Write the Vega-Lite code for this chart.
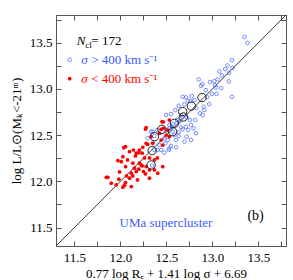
{
  "$schema": "https://vega.github.io/schema/vega-lite/v6.json",
  "width": 230,
  "height": 231,
  "autosize": {"type": "none"},
  "padding": {"left": 56, "top": 15, "right": 7, "bottom": 34},
  "background": "white",
  "config": {
    "view": {"stroke": "#555", "strokeWidth": 1},
    "axis": {
      "domainColor": "#555",
      "tickColor": "#555",
      "labelFont": "Liberation Serif",
      "labelFontSize": 13,
      "labelColor": "#000",
      "titleFont": "Liberation Serif",
      "titleFontSize": 13,
      "titleFontWeight": "normal",
      "titleColor": "#000",
      "grid": false
    }
  },
  "datasets": {
    "diag": [{"x": 11.3, "y": 11.3}, {"x": 13.8, "y": 13.8}],
    "hi": [
      {"x": 13.348, "y": 13.563}, {"x": 13.381, "y": 13.498}, {"x": 13.212, "y": 13.311}, {"x": 13.164, "y": 13.254},
      {"x": 13.139, "y": 13.214}, {"x": 13.077, "y": 13.189}, {"x": 13.179, "y": 13.174}, {"x": 13.103, "y": 13.146},
      {"x": 13.056, "y": 13.103}, {"x": 13.02, "y": 13.084}, {"x": 12.85, "y": 13.103}, {"x": 12.893, "y": 13.052},
      {"x": 12.876, "y": 13.034}, {"x": 12.973, "y": 13.074}, {"x": 13.028, "y": 13.041}, {"x": 13.038, "y": 13.016},
      {"x": 13.179, "y": 13.081}, {"x": 12.93, "y": 12.987}, {"x": 12.995, "y": 12.947}, {"x": 13.045, "y": 12.947},
      {"x": 13.212, "y": 12.915}, {"x": 12.774, "y": 12.922}, {"x": 12.731, "y": 12.872}, {"x": 12.76, "y": 12.868},
      {"x": 12.966, "y": 12.836}, {"x": 12.633, "y": 12.818}, {"x": 12.695, "y": 12.833}, {"x": 12.865, "y": 12.736},
      {"x": 12.893, "y": 12.717}, {"x": 12.757, "y": 12.663}, {"x": 12.768, "y": 12.609}, {"x": 12.568, "y": 12.62},
      {"x": 12.612, "y": 12.628}, {"x": 12.532, "y": 12.574}, {"x": 12.677, "y": 12.563}, {"x": 12.796, "y": 12.574},
      {"x": 12.352, "y": 12.537}, {"x": 12.568, "y": 12.537}, {"x": 12.633, "y": 12.53}, {"x": 12.677, "y": 12.915},
      {"x": 12.713, "y": 12.908}, {"x": 12.497, "y": 12.717}, {"x": 12.551, "y": 12.728}, {"x": 12.659, "y": 12.717},
      {"x": 12.673, "y": 12.696}, {"x": 12.72, "y": 12.692}, {"x": 12.616, "y": 12.663}, {"x": 12.641, "y": 12.645},
      {"x": 12.532, "y": 12.609}, {"x": 12.562, "y": 12.591}, {"x": 12.497, "y": 12.548}, {"x": 12.659, "y": 12.584},
      {"x": 12.713, "y": 12.591}, {"x": 12.633, "y": 12.49}, {"x": 12.72, "y": 12.483}, {"x": 12.822, "y": 12.52},
      {"x": 12.478, "y": 12.466}, {"x": 12.514, "y": 12.447}, {"x": 12.605, "y": 12.447}, {"x": 12.695, "y": 12.429},
      {"x": 12.768, "y": 12.447}, {"x": 12.489, "y": 12.411}, {"x": 12.551, "y": 12.382}, {"x": 12.605, "y": 12.368},
      {"x": 12.424, "y": 12.393}, {"x": 12.912, "y": 12.771}, {"x": 12.352, "y": 12.418}, {"x": 12.443, "y": 12.339},
      {"x": 12.525, "y": 12.339}, {"x": 12.334, "y": 12.537}, {"x": 12.37, "y": 12.49}, {"x": 12.297, "y": 12.466},
      {"x": 12.37, "y": 12.339}, {"x": 12.345, "y": 12.17}, {"x": 12.532, "y": 12.357}, {"x": 12.478, "y": 12.31},
      {"x": 12.402, "y": 12.339}, {"x": 12.587, "y": 12.501}, {"x": 13.218, "y": 13.228}, {"x": 12.904, "y": 12.807},
      {"x": 12.803, "y": 12.879}, {"x": 12.825, "y": 12.793}, {"x": 12.944, "y": 12.911}, {"x": 13.096, "y": 13.009},
      {"x": 12.597, "y": 12.771}, {"x": 12.814, "y": 12.663}, {"x": 12.738, "y": 12.555}, {"x": 12.402, "y": 12.555}
    ],
    "lo": [
      {"x": 12.28, "y": 12.58}, {"x": 12.467, "y": 12.642}, {"x": 12.532, "y": 12.663}, {"x": 12.453, "y": 12.645},
      {"x": 12.443, "y": 12.563}, {"x": 12.514, "y": 12.555}, {"x": 12.424, "y": 12.52}, {"x": 12.497, "y": 12.501},
      {"x": 12.532, "y": 12.483}, {"x": 12.443, "y": 12.447}, {"x": 12.46, "y": 12.393}, {"x": 12.272, "y": 12.566},
      {"x": 12.056, "y": 12.375}, {"x": 12.037, "y": 12.364}, {"x": 12.099, "y": 12.321}, {"x": 12.172, "y": 12.304},
      {"x": 12.2, "y": 12.31}, {"x": 12.237, "y": 12.304}, {"x": 12.243, "y": 12.368}, {"x": 12.297, "y": 12.401},
      {"x": 12.352, "y": 12.411}, {"x": 12.334, "y": 12.483}, {"x": 12.28, "y": 12.411}, {"x": 12.207, "y": 12.339},
      {"x": 12.164, "y": 12.274}, {"x": 12.027, "y": 12.267}, {"x": 11.972, "y": 12.224}, {"x": 12.009, "y": 12.213},
      {"x": 12.135, "y": 12.196}, {"x": 12.226, "y": 12.177}, {"x": 12.056, "y": 12.159}, {"x": 12.207, "y": 12.196},
      {"x": 12.237, "y": 12.166}, {"x": 12.28, "y": 12.159}, {"x": 11.847, "y": 12.044}, {"x": 11.864, "y": 12.044},
      {"x": 11.955, "y": 11.961}, {"x": 12.056, "y": 11.986}, {"x": 12.118, "y": 12.088}, {"x": 12.099, "y": 12.034},
      {"x": 12.135, "y": 12.058}, {"x": 12.118, "y": 11.943}, {"x": 12.027, "y": 11.936}, {"x": 12.272, "y": 12.08},
      {"x": 12.316, "y": 12.034}, {"x": 12.2, "y": 12.131}, {"x": 12.172, "y": 12.105}, {"x": 12.153, "y": 12.142},
      {"x": 11.901, "y": 11.98}, {"x": 11.983, "y": 12.023}, {"x": 12.045, "y": 11.958}, {"x": 12.46, "y": 12.159},
      {"x": 12.406, "y": 12.088}, {"x": 12.37, "y": 12.231}, {"x": 12.262, "y": 12.253}, {"x": 12.316, "y": 12.123},
      {"x": 12.251, "y": 12.105}, {"x": 12.467, "y": 12.574}, {"x": 12.077, "y": 12.231}, {"x": 12.142, "y": 12.339},
      {"x": 11.991, "y": 12.101}, {"x": 12.186, "y": 12.015}, {"x": 12.37, "y": 12.123}, {"x": 12.402, "y": 12.253},
      {"x": 12.316, "y": 12.253}, {"x": 12.067, "y": 12.058}
    ],
    "ring": [
      {"x": 12.887, "y": 12.906}, {"x": 12.771, "y": 12.814}, {"x": 12.677, "y": 12.755}, {"x": 12.684, "y": 12.696},
      {"x": 12.587, "y": 12.628}, {"x": 12.568, "y": 12.537}, {"x": 12.451, "y": 12.563}, {"x": 12.37, "y": 12.483},
      {"x": 12.345, "y": 12.332}, {"x": 12.334, "y": 12.177}
    ],
    "keyhi": [{"x": 11.449, "y": 13.316}],
    "keylo": [{"x": 11.449, "y": 13.111}],
    "txt": [
      {"k": "n", "x": 11.525, "y": 13.473, "t": "N"},
      {"k": "sub", "x": 11.617, "y": 13.446, "t": "cl"},
      {"k": "eq", "x": 11.684, "y": 13.473, "t": "= 172"},
      {"k": "sigb", "x": 11.574, "y": 13.273, "t": "σ"},
      {"k": "legb", "x": 11.682, "y": 13.273, "t": "> 400 km s⁻¹"},
      {"k": "sigr", "x": 11.574, "y": 13.068, "t": "σ"},
      {"k": "legr", "x": 11.682, "y": 13.068, "t": "< 400 km s⁻¹"},
      {"k": "uma", "x": 11.991, "y": 11.508, "t": "UMa supercluster"},
      {"k": "b", "x": 13.381, "y": 11.583, "t": "(b)"}
    ]
  },
  "resolve": {"axis": {"x": "independent", "y": "independent"}},
  "layer": [
    {
      "data": {"name": "diag"},
      "mark": {"type": "line", "color": "#222", "strokeWidth": 0.9},
      "encoding": {
        "x": {"field": "x", "type": "quantitative", "scale": {"domain": [11.3, 13.8], "nice": false, "zero": false},
          "axis": {"orient": "bottom", "values": [11.5, 11.75, 12, 12.25, 12.5, 12.75, 13, 13.25, 13.5, 13.75],
            "labelExpr": "datum.value * 2 % 1 == 0 ? format(datum.value, '.1f') : ''",
            "tickSize": -5, "labelPadding": 10, "title": "0.77 log Rₑ + 1.41 log σ + 6.69", "titlePadding": 3, "titleX": 110}},
        "y": {"field": "y", "type": "quantitative", "scale": {"domain": [11.3, 13.8], "nice": false, "zero": false},
          "axis": {"orient": "left", "values": [11.5, 11.75, 12, 12.25, 12.5, 12.75, 13, 13.25, 13.5, 13.75],
            "labelExpr": "datum.value * 2 % 1 == 0 ? format(datum.value, '.1f') : ''",
            "tickSize": -5, "labelPadding": 9, "title": "log L/L⊙(Mₖ<-21ᵐ)", "titlePadding": 6}}
      }
    },
    {
      "data": {"name": "hi"},
      "mark": {"type": "point", "shape": "circle", "filled": false, "size": 13, "stroke": "#3a5cff", "strokeWidth": 1},
      "encoding": {
        "x": {"field": "x", "type": "quantitative", "scale": {"domain": [11.3, 13.8], "nice": false, "zero": false},
          "axis": {"orient": "top", "values": [11.5, 11.75, 12, 12.25, 12.5, 12.75, 13, 13.25, 13.5, 13.75], "labels": false, "tickSize": -5, "title": null}},
        "y": {"field": "y", "type": "quantitative", "scale": {"domain": [11.3, 13.8], "nice": false, "zero": false},
          "axis": {"orient": "right", "values": [11.5, 11.75, 12, 12.25, 12.5, 12.75, 13, 13.25, 13.5, 13.75], "labels": false, "tickSize": -5, "title": null}}
      }
    },
    {
      "data": {"name": "keyhi"},
      "mark": {"type": "point", "shape": "circle", "filled": false, "size": 13, "stroke": "#3a5cff", "strokeWidth": 1},
      "encoding": {
        "x": {"field": "x", "type": "quantitative", "axis": null},
        "y": {"field": "y", "type": "quantitative", "axis": null}
      }
    },
    {
      "data": {"name": "lo"},
      "mark": {"type": "point", "shape": "circle", "filled": true, "size": 14, "color": "#ff0000", "opacity": 1},
      "encoding": {
        "x": {"field": "x", "type": "quantitative", "axis": null},
        "y": {"field": "y", "type": "quantitative", "axis": null}
      }
    },
    {
      "data": {"name": "keylo"},
      "mark": {"type": "point", "shape": "circle", "filled": true, "size": 14, "color": "#ff0000", "opacity": 1},
      "encoding": {
        "x": {"field": "x", "type": "quantitative", "axis": null},
        "y": {"field": "y", "type": "quantitative", "axis": null}
      }
    },
    {
      "data": {"name": "ring"},
      "mark": {"type": "point", "shape": "circle", "filled": false, "size": 70, "stroke": "#222", "strokeWidth": 1, "opacity": 1},
      "encoding": {
        "x": {"field": "x", "type": "quantitative", "axis": null},
        "y": {"field": "y", "type": "quantitative", "axis": null}
      }
    },
    {
      "data": {"name": "txt"},
      "transform": [{"filter": "datum.k == 'n'"}],
      "mark": {"type": "text", "font": "Liberation Serif", "fontSize": 13, "fontStyle": "italic", "align": "left", "baseline": "alphabetic", "color": "#000"},
      "encoding": {"x": {"field": "x", "type": "quantitative", "axis": null}, "y": {"field": "y", "type": "quantitative", "axis": null}, "text": {"field": "t"}}
    },
    {
      "data": {"name": "txt"},
      "transform": [{"filter": "datum.k == 'sub'"}],
      "mark": {"type": "text", "font": "Liberation Serif", "fontSize": 9, "align": "left", "baseline": "alphabetic", "color": "#000"},
      "encoding": {"x": {"field": "x", "type": "quantitative", "axis": null}, "y": {"field": "y", "type": "quantitative", "axis": null}, "text": {"field": "t"}}
    },
    {
      "data": {"name": "txt"},
      "transform": [{"filter": "datum.k == 'eq'"}],
      "mark": {"type": "text", "font": "Liberation Serif", "fontSize": 13, "align": "left", "baseline": "alphabetic", "color": "#000"},
      "encoding": {"x": {"field": "x", "type": "quantitative", "axis": null}, "y": {"field": "y", "type": "quantitative", "axis": null}, "text": {"field": "t"}}
    },
    {
      "data": {"name": "txt"},
      "transform": [{"filter": "datum.k == 'sigb'"}],
      "mark": {"type": "text", "font": "Liberation Serif", "fontSize": 13, "fontStyle": "italic", "align": "left", "baseline": "alphabetic", "color": "#3a5cff"},
      "encoding": {"x": {"field": "x", "type": "quantitative", "axis": null}, "y": {"field": "y", "type": "quantitative", "axis": null}, "text": {"field": "t"}}
    },
    {
      "data": {"name": "txt"},
      "transform": [{"filter": "datum.k == 'legb'"}],
      "mark": {"type": "text", "font": "Liberation Serif", "fontSize": 13, "align": "left", "baseline": "alphabetic", "color": "#3a5cff"},
      "encoding": {"x": {"field": "x", "type": "quantitative", "axis": null}, "y": {"field": "y", "type": "quantitative", "axis": null}, "text": {"field": "t"}}
    },
    {
      "data": {"name": "txt"},
      "transform": [{"filter": "datum.k == 'sigr'"}],
      "mark": {"type": "text", "font": "Liberation Serif", "fontSize": 13, "fontStyle": "italic", "align": "left", "baseline": "alphabetic", "color": "#ff0000"},
      "encoding": {"x": {"field": "x", "type": "quantitative", "axis": null}, "y": {"field": "y", "type": "quantitative", "axis": null}, "text": {"field": "t"}}
    },
    {
      "data": {"name": "txt"},
      "transform": [{"filter": "datum.k == 'legr'"}],
      "mark": {"type": "text", "font": "Liberation Serif", "fontSize": 13, "align": "left", "baseline": "alphabetic", "color": "#ff0000"},
      "encoding": {"x": {"field": "x", "type": "quantitative", "axis": null}, "y": {"field": "y", "type": "quantitative", "axis": null}, "text": {"field": "t"}}
    },
    {
      "data": {"name": "txt"},
      "transform": [{"filter": "datum.k == 'uma'"}],
      "mark": {"type": "text", "font": "Liberation Serif", "fontSize": 13, "align": "left", "baseline": "alphabetic", "color": "#3a5cff"},
      "encoding": {"x": {"field": "x", "type": "quantitative", "axis": null}, "y": {"field": "y", "type": "quantitative", "axis": null}, "text": {"field": "t"}}
    },
    {
      "data": {"name": "txt"},
      "transform": [{"filter": "datum.k == 'b'"}],
      "mark": {"type": "text", "font": "Liberation Serif", "fontSize": 14, "align": "left", "baseline": "alphabetic", "color": "#000"},
      "encoding": {"x": {"field": "x", "type": "quantitative", "axis": null}, "y": {"field": "y", "type": "quantitative", "axis": null}, "text": {"field": "t"}}
    }
  ]
}
